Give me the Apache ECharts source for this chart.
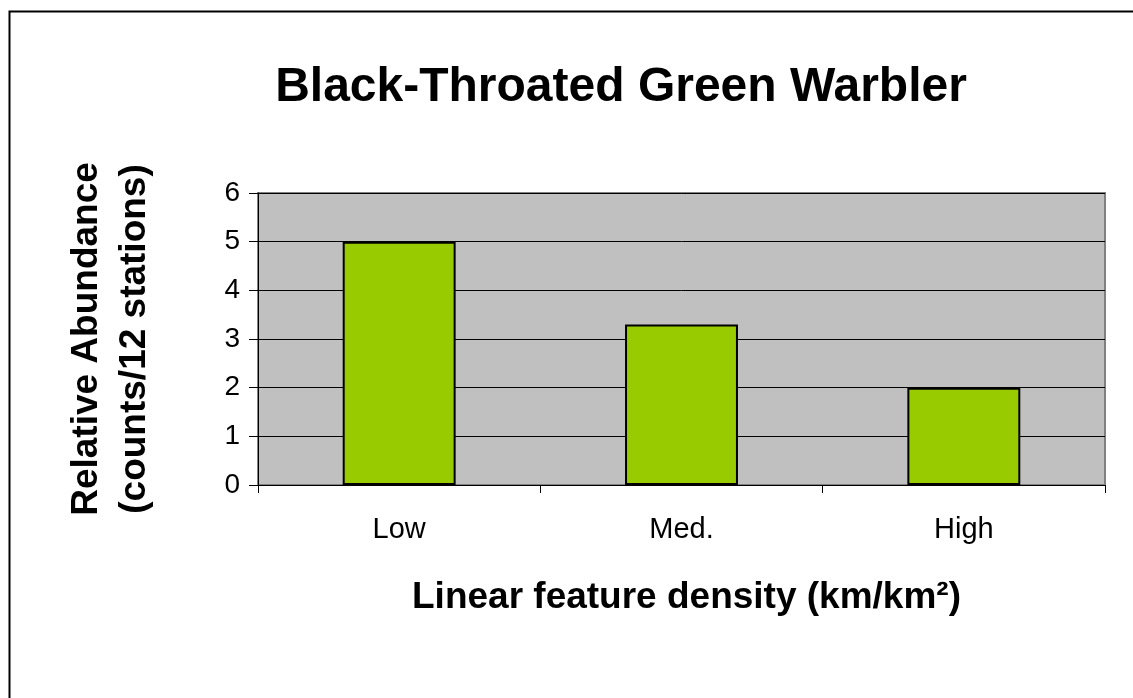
<!DOCTYPE html>
<html><head><meta charset="utf-8">
<script src="https://cdn.jsdelivr.net/npm/echarts@6/dist/echarts.min.js"></script>
<style>html,body{margin:0;padding:0;background:#fff}#c{width:1133px;height:698px}</style>
</head><body><div id="c"></div>
<script>
const categories = ['Low', 'Med.', 'High'];
const abundance = [5.0, 3.3, 2.0];
const yTicks = [0, 1, 2, 3, 4, 5, 6];
const titleText = 'Black-Throated Green Warbler';
const yName = 'Relative Abundance\n(counts/12 stations)';
const xName = 'Linear feature density (km/km\u00B2)';

const font = 'Liberation Sans, Arial, sans-serif';
const chart = echarts.init(document.getElementById('c'), null, {renderer: 'canvas'});
chart.setOption({
  backgroundColor: '#fff',
  animation: false,
  graphic: [{type: 'rect', left: 7, top: 9, shape: {width: 1300, height: 900}, style: {fill: 'none', stroke: '#000', lineWidth: 2}, silent: true, z: -10}],
  title: {text: titleText, left: 616, top: 59, textAlign: 'center',
    textStyle: {fontFamily: font, fontSize: 48, fontWeight: 'bold', color: '#000'}},
  grid: {left: 258, right: 28, top: 193, bottom: 213, show: true, backgroundColor: '#c0c0c0', borderColor: '#808080', borderWidth: 2},
  xAxis: {type: 'category', data: categories,
    axisLine: {lineStyle: {color: '#000', width: 1}},
    axisTick: {show: true, length: 8, lineStyle: {color: '#000'}},
    axisLabel: {fontFamily: font, fontSize: 29, color: '#000', margin: 30},
    name: xName, nameLocation: 'middle', nameGap: 94,
    nameTextStyle: {fontFamily: font, fontSize: 37, fontWeight: 'bold', color: '#000', padding: [0, 0, 0, 10]}},
  yAxis: {type: 'value', min: yTicks[0], max: yTicks[yTicks.length - 1], interval: 1,
    axisLine: {show: true, lineStyle: {color: '#000', width: 1}},
    axisTick: {show: true, length: 9, lineStyle: {color: '#000'}},
    axisLabel: {fontFamily: font, fontSize: 28, color: '#000', margin: 18},
    splitLine: {show: true, lineStyle: {color: '#000', width: 1}},
    name: yName, nameLocation: 'middle', nameGap: 99,
    nameTextStyle: {fontFamily: font, fontSize: 37, fontWeight: 'bold', color: '#000', lineHeight: 48, align: 'center'}},
  series: [{type: 'bar', data: abundance, barWidth: '40%',
    itemStyle: {color: '#99cc00', borderColor: '#000', borderWidth: 2}}]
});
</script></body></html>
